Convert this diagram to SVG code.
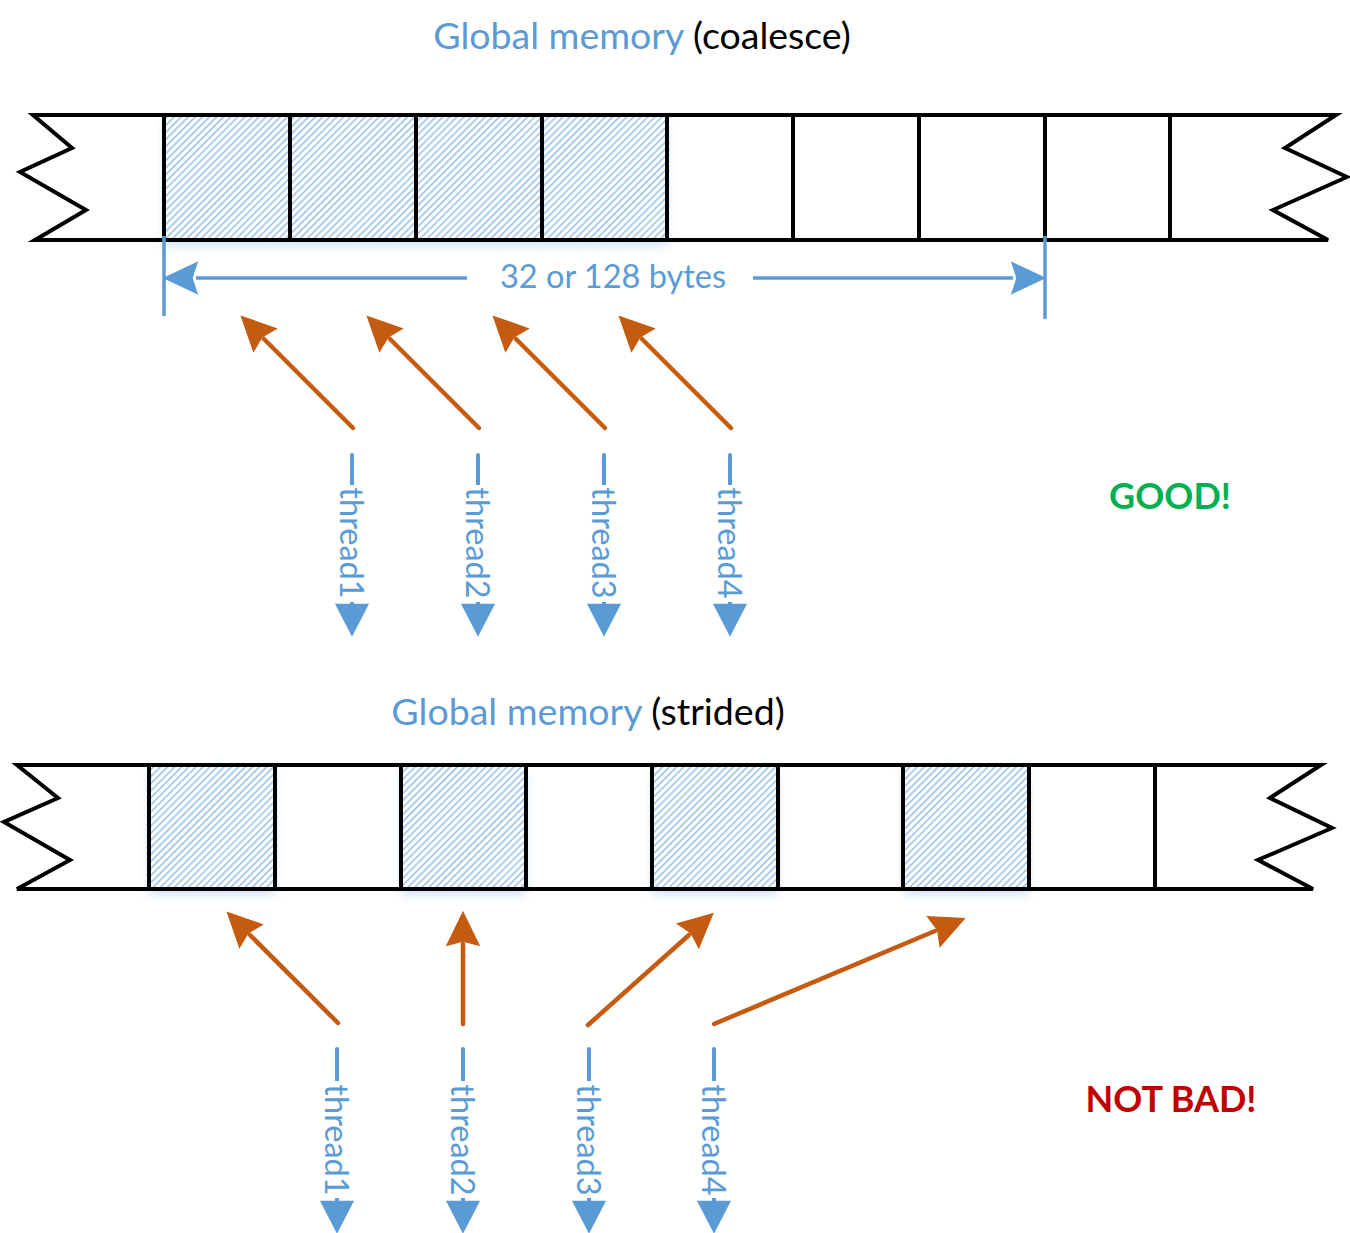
<svg xmlns="http://www.w3.org/2000/svg" width="1350" height="1233" viewBox="0 0 1350 1233">
<style>
.bar{fill:#fff;stroke:#000;stroke-width:4;stroke-linejoin:miter}
.div{stroke:#000;stroke-width:4;fill:none}
.hatch{fill:url(#hatch);filter:url(#sh)}
.blue{stroke:#5B9BD5;stroke-width:3.5;fill:none}
.org{stroke:#C55A11;stroke-width:4.5;fill:none;stroke-linecap:round;marker-end:url(#ho)}
.thr{stroke:#5B9BD5;stroke-width:4;fill:none;stroke-linecap:round;marker-end:url(#hb)}
.t{font-family:Lato,"Liberation Sans",sans-serif}
.tl{font-size:37.5px;fill:#5B9BD5}
.tk{fill:#000}
.lab{font-size:32.5px;fill:#5B9BD5}
.bold{font-size:36px;font-weight:bold}
</style>
<defs>
<pattern id="hatch" width="5" height="5" patternUnits="userSpaceOnUse" patternTransform="rotate(45)">
<rect width="5" height="5" fill="#fff"/>
<line x1="0.8" y1="0" x2="0.8" y2="5" stroke="#6FA6DA" stroke-width="1.1"/>
</pattern>
<filter id="sh" x="-10%" y="-10%" width="120%" height="140%">
<feDropShadow dx="0" dy="6" stdDeviation="5" flood-color="#9DC3E6" flood-opacity="0.45"/>
</filter>
<marker id="ho" markerUnits="userSpaceOnUse" markerWidth="40" markerHeight="40" viewBox="-2 -17 36 34" refX="2" refY="0" orient="auto">
<path d="M0,-15.5 L32,0 L0,15.5 L4,0 Z" fill="#C55A11"/>
</marker>
<marker id="hb" markerUnits="userSpaceOnUse" markerWidth="40" markerHeight="40" viewBox="-2 -16 34 32" refX="1" refY="0" orient="auto">
<path d="M0,-14.5 L28,0 L0,14.5 Z" fill="#5B9BD5"/>
</marker>
<marker id="hd" markerUnits="userSpaceOnUse" markerWidth="40" markerHeight="40" viewBox="-2 -17 36 34" refX="2" refY="0" orient="auto">
<path d="M0,-15 L32,0 L0,15 L5,0 Z" fill="#5B9BD5"/>
</marker>
</defs>

<g id="coalesce-memory">
<text class="t tl" x="642" y="49" text-anchor="middle">Global memory <tspan class="tk">(coalesce)</tspan></text>
<path class="bar" d="M33,115 L1336,115 L1285,148 L1347,177 L1273,210 L1328,240 L35,240 L86,210 L20,172 L72,148 Z"/>
<rect class="hatch" x="164" y="115" width="503" height="125"/>
<path class="div" d="M33,115 L1336,115 M35,240 L1328,240"/>
<path class="div" d="M164,115V240 M290,115V240 M416,115V240 M542,115V240 M667,115V240 M793,115V240 M919,115V240 M1045,115V240 M1170,115V240"/>
</g>

<g id="strided-memory">
<text class="t tl" x="588" y="725" text-anchor="middle">Global memory <tspan class="tk">(strided)</tspan></text>
<path class="bar" d="M17,765 L1321,765 L1270,798 L1332,828 L1258,860 L1313,889 L17,889 L70,860 L4,822 L58,798 Z"/>
<rect class="hatch" x="149" y="765" width="126" height="124"/>
<rect class="hatch" x="401" y="765" width="125" height="124"/>
<rect class="hatch" x="652" y="765" width="126" height="124"/>
<rect class="hatch" x="903" y="765" width="126" height="124"/>
<path class="div" d="M17,765 L1321,765 M17,889 L1313,889"/>
<path class="div" d="M149,765V889 M275,765V889 M401,765V889 M526,765V889 M652,765V889 M778,765V889 M903,765V889 M1029,765V889 M1155,765V889"/>
</g>

<g id="size-dimension">
<path class="blue" d="M164,236V316 M1045,236V319"/>
<path class="blue" d="M467,278H196" marker-end="url(#hd)"/>
<path class="blue" d="M753,278H1013" marker-end="url(#hd)"/>
<text class="t lab" x="613" y="288" text-anchor="middle">32 or 128 bytes</text>
</g>

<g id="verdicts">
<text class="t bold" x="1170" y="509" text-anchor="middle" fill="#00B050">GOOD!</text>
<text class="t bold" x="1171" y="1112" text-anchor="middle" fill="#C00000">NOT BAD!</text>
</g>

<g id="threads-top">
<g id="t1-top"><path class="thr" d="M352,455V605"/><rect x="338" y="485" width="30" height="117" fill="#fff"/><text class="t lab" transform="translate(340,543) rotate(90)" text-anchor="middle">thread1</text></g>
<g id="t2-top"><path class="thr" d="M478,455V605"/><rect x="464" y="485" width="30" height="117" fill="#fff"/><text class="t lab" transform="translate(466,543) rotate(90)" text-anchor="middle">thread2</text></g>
<g id="t3-top"><path class="thr" d="M604,455V605"/><rect x="590" y="485" width="30" height="117" fill="#fff"/><text class="t lab" transform="translate(592,543) rotate(90)" text-anchor="middle">thread3</text></g>
<g id="t4-top"><path class="thr" d="M730,455V605"/><rect x="716" y="485" width="30" height="117" fill="#fff"/><text class="t lab" transform="translate(718,543) rotate(90)" text-anchor="middle">thread4</text></g>
</g>

<g id="threads-bottom">
<g id="t1-bot"><path class="thr" d="M337,1049V1202"/><rect x="323" y="1081" width="30" height="117" fill="#fff"/><text class="t lab" transform="translate(325,1140) rotate(90)" text-anchor="middle">thread1</text></g>
<g id="t2-bot"><path class="thr" d="M463,1049V1202"/><rect x="449" y="1081" width="30" height="117" fill="#fff"/><text class="t lab" transform="translate(451,1140) rotate(90)" text-anchor="middle">thread2</text></g>
<g id="t3-bot"><path class="thr" d="M589,1049V1202"/><rect x="575" y="1081" width="30" height="117" fill="#fff"/><text class="t lab" transform="translate(577,1140) rotate(90)" text-anchor="middle">thread3</text></g>
<g id="t4-bot"><path class="thr" d="M714,1049V1202"/><rect x="700" y="1081" width="30" height="117" fill="#fff"/><text class="t lab" transform="translate(702,1140) rotate(90)" text-anchor="middle">thread4</text></g>
</g>

<g id="connectors">
<path class="org" d="M353,428L264,339"/>
<path class="org" d="M479,428L390,339"/>
<path class="org" d="M605,428L516,339"/>
<path class="org" d="M731,428L642,339"/>
<path class="org" d="M338,1023L250,935"/>
<path class="org" d="M463,1024V944"/>
<path class="org" d="M588,1025L689,935"/>
<path class="org" d="M714,1024L935,931"/>
</g>
</svg>
